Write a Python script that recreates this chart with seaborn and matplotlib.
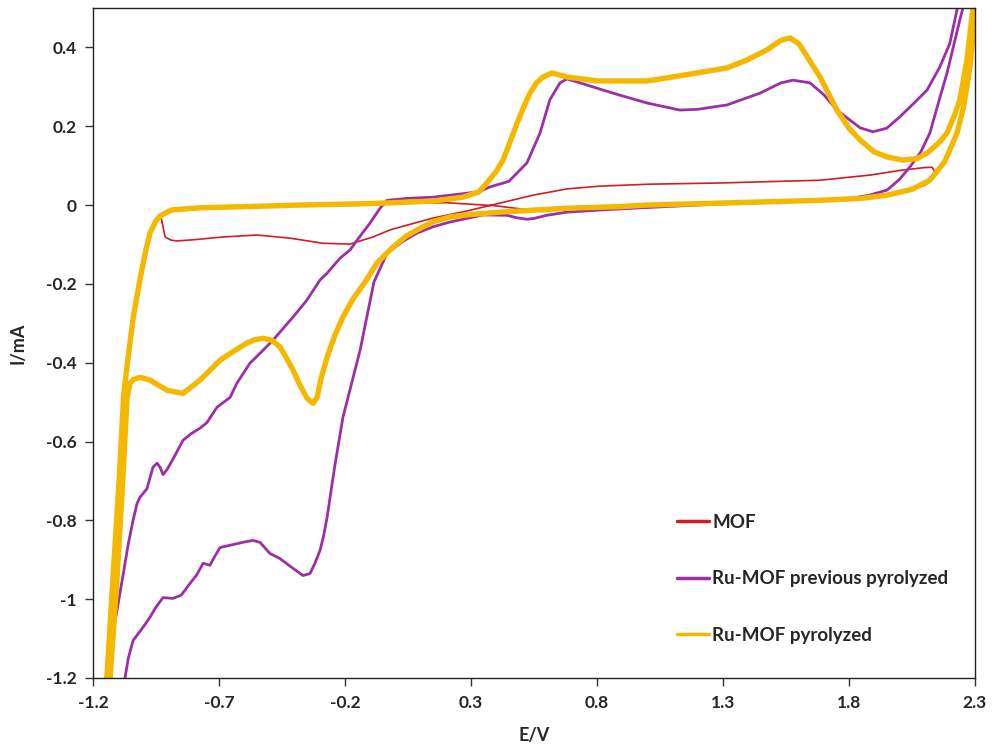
import numpy as np
import pandas as pd
import matplotlib
matplotlib.use('Agg')
import matplotlib.pyplot as plt
import seaborn as sns

# Digitised CV loops (E in V, I in mA)
mof_E = [-0.926, -0.914, -0.890, -0.867, -0.80, -0.684, -0.549, -0.418, -0.287, -0.18,
         -0.089, -0.021, 0.018, 0.149, 0.284, 0.415, 0.546, 0.681, 0.812, 1.01,
         1.288, 1.685, 1.883, 2.014, 2.10, 2.13, 2.14, 2.13, 2.10, 2.05,
         1.95, 1.85, 1.685, 1.288, 1.0, 0.681, 0.50, 0.40, 0.20, 0.0, -0.40, -0.70, -0.85,
         -0.90, -0.93, -0.926]
mof_I = [-0.043, -0.081, -0.089, -0.091, -0.088, -0.081, -0.076, -0.084, -0.097, -0.099,
         -0.081, -0.063, -0.056, -0.033, -0.015, 0.005, 0.025, 0.041, 0.048, 0.053,
         0.056, 0.063, 0.076, 0.089, 0.095, 0.096, 0.085, 0.064, 0.050, 0.040,
         0.025, 0.017, 0.012, 0.005, 0.0, -0.008, -0.01, -0.002, 0.006, 0.004, 0.0, -0.005, -0.010,
         -0.018, -0.030, -0.043]

prev_E = [-1.138, -1.121, -1.105, -1.081, -1.06, -1.041, -1.025, -1.013, -0.986, -0.962,
          -0.946, -0.934, -0.922, -0.905, -0.883, -0.843, -0.81, -0.775, -0.748, -0.708,
          -0.656, -0.629, -0.577, -0.537, -0.486, -0.406, -0.351, -0.299, -0.271, -0.22,
          -0.18, -0.152, -0.1, -0.061, -0.033, 0.05, 0.149, 0.284, 0.336, 0.375,
          0.45, 0.522, 0.574, 0.613, 0.653, 0.681, 0.733, 0.863, 0.998, 1.129,
          1.2, 1.316, 1.447, 1.53, 1.578, 1.645, 1.70, 1.752, 1.844, 1.895,
          1.95, 2.002, 2.06, 2.11, 2.16, 2.2, 2.23, 2.245,
          2.252, 2.24, 2.189, 2.155, 2.121, 2.085, 2.042, 2.0, 1.951, 1.88,
          1.816, 1.713, 1.5, 1.3, 1.1, 0.943, 0.8, 0.681, 0.6, 0.55,
          0.522, 0.48, 0.443, 0.348, 0.217, 0.15, 0.086, 0.03, -0.033, -0.085,
          -0.14, -0.208, -0.24, -0.271, -0.285, -0.299, -0.32, -0.339, -0.367, -0.41,
          -0.458, -0.498, -0.537, -0.565, -0.6, -0.656, -0.696, -0.72, -0.736, -0.763,
          -0.79, -0.815, -0.85, -0.883, -0.922, -0.95, -0.974, -1.0, -1.041, -1.06,
          -1.073, -1.10, -1.138]
prev_I = [-1.20, -1.087, -1.029, -0.94, -0.86, -0.80, -0.757, -0.741, -0.72, -0.665,
          -0.655, -0.665, -0.684, -0.67, -0.645, -0.597, -0.58, -0.566, -0.552, -0.513,
          -0.488, -0.452, -0.401, -0.376, -0.343, -0.284, -0.241, -0.19, -0.173, -0.135,
          -0.114, -0.089, -0.045, -0.008, 0.012, 0.017, 0.02, 0.03, 0.035, 0.046,
          0.06, 0.107, 0.183, 0.267, 0.31, 0.32, 0.31, 0.284, 0.259, 0.241,
          0.243, 0.254, 0.284, 0.31, 0.317, 0.31, 0.28, 0.241, 0.196, 0.186,
          0.195, 0.224, 0.26, 0.292, 0.35, 0.41, 0.50, 0.56,
          0.50, 0.47, 0.335, 0.26, 0.183, 0.135, 0.097, 0.065, 0.038, 0.025,
          0.018, 0.013, 0.007, 0.003, -0.003, -0.008, -0.013, -0.018, -0.026, -0.034,
          -0.036, -0.032, -0.026, -0.025, -0.043, -0.055, -0.071, -0.092, -0.122, -0.195,
          -0.368, -0.538, -0.66, -0.792, -0.84, -0.876, -0.91, -0.935, -0.94, -0.92,
          -0.897, -0.884, -0.856, -0.851, -0.855, -0.863, -0.869, -0.895, -0.914, -0.909,
          -0.94, -0.96, -0.99, -0.998, -0.996, -1.02, -1.046, -1.07, -1.105, -1.15,
          -1.20, -1.30, -1.20]

pyr_E = [-1.145, -1.122, -1.097, -1.078, -1.062, -1.04, -1.012, -0.99, -0.974, -0.95,
         -0.934, -0.9, -0.883, -0.775, -0.537, -0.379, -0.14, -0.049, 0.149, 0.268,
         0.33, 0.363, 0.4, 0.427, 0.455, 0.483, 0.51, 0.534, 0.56, 0.586,
         0.621, 0.681, 0.8, 0.998, 1.05, 1.129, 1.316, 1.395, 1.475, 1.53,
         1.566, 1.6, 1.617, 1.65, 1.685, 1.752, 1.8, 1.844, 1.9, 1.951,
         2.014, 2.07, 2.11, 2.16, 2.189, 2.22, 2.24, 2.268, 2.292, 2.305,
         2.302, 2.28, 2.255, 2.229, 2.18, 2.121, 2.05, 1.95, 1.85, 1.685,
         1.288, 1.0, 0.891, 0.681, 0.415, 0.3, 0.217, 0.15, 0.086, 0.04,
         -0.01, -0.073, -0.12, -0.17, -0.208, -0.24, -0.271, -0.295, -0.311, -0.327,
         -0.351, -0.38, -0.406, -0.435, -0.458, -0.49, -0.525, -0.56, -0.589, -0.64, -0.696, -0.775,
         -0.843, -0.906, -0.974, -1.013, -1.04, -1.053, -1.065, -1.082, -1.105, -1.132,
         -1.14, -1.145]
pyr_I = [-1.20, -0.96, -0.706, -0.48, -0.394, -0.284, -0.183, -0.114, -0.071, -0.04,
         -0.028, -0.016, -0.012, -0.007, -0.003, 0.0, 0.003, 0.005, 0.01, 0.02,
         0.033, 0.056, 0.085, 0.114, 0.16, 0.208, 0.25, 0.284, 0.31, 0.325,
         0.335, 0.325, 0.315, 0.315, 0.32, 0.328, 0.348, 0.368, 0.394, 0.418,
         0.424, 0.41, 0.394, 0.36, 0.325, 0.241, 0.195, 0.165, 0.135, 0.122,
         0.114, 0.118, 0.132, 0.16, 0.183, 0.23, 0.267, 0.368, 0.50, 0.58,
         0.50, 0.35, 0.25, 0.183, 0.11, 0.063, 0.04, 0.025, 0.017, 0.012,
         0.005, 0.0, -0.004, -0.008, -0.018, -0.024, -0.03, -0.042, -0.063, -0.08,
         -0.107, -0.147, -0.195, -0.24, -0.284, -0.33, -0.386, -0.44, -0.488, -0.503,
         -0.49, -0.455, -0.419, -0.385, -0.36, -0.343, -0.338, -0.342, -0.35, -0.37, -0.394, -0.444,
         -0.478, -0.47, -0.444, -0.437, -0.443, -0.452, -0.49, -0.70, -0.95, -1.20,
         -1.30, -1.20]

labels = ['MOF', 'Ru-MOF previous pyrolyzed', 'Ru-MOF pyrolyzed']
colors = ['#D01E26', '#9B2FA6', '#F5B800']
widths = [1.2, 2.0, 3.9]

x_ticks = [-1.2, -0.7, -0.2, 0.3, 0.8, 1.3, 1.8, 2.3]
y_ticks = [-1.2, -1.0, -0.8, -0.6, -0.4, -0.2, 0.0, 0.2, 0.4]

sns.set_theme(style='ticks')
plt.rcParams['font.family'] = ['Lato', 'DejaVu Sans']
plt.rcParams['axes.unicode_minus'] = False

fig = plt.figure(figsize=(9.92, 7.5), dpi=100)
ax = fig.add_axes([93 / 992, 1 - 678 / 750, 882 / 992, 670 / 750])

series = [(mof_E, mof_I), (prev_E, prev_I), (pyr_E, pyr_I)]
for (E, I), lab, c, w in zip(series, labels, colors, widths):
    df = pd.DataFrame({'E': E, 'I': I})
    sns.lineplot(data=df, x='E', y='I', sort=False, estimator=None,
                 color=c, linewidth=w, label=lab, ax=ax)

ax.set_xlim(-1.2, 2.3)
ax.set_ylim(-1.2, 0.5)
ax.set_xticks(x_ticks)
ax.set_yticks(y_ticks)
ax.set_xticklabels([f'{v:g}' for v in x_ticks], fontweight='bold', fontsize=12.5)
ax.set_yticklabels([f'{round(v, 1):g}' for v in y_ticks], fontweight='bold', fontsize=12.5)
ax.tick_params(axis='both', direction='out', length=6, width=1, color='#333333', pad=6)
for s in ax.spines.values():
    s.set_color('#222222')
    s.set_linewidth(1.0)

ax.set_xlabel('E/V', fontweight='bold', fontsize=13, labelpad=12)
ax.set_ylabel('I/mA', fontweight='bold', fontsize=13, labelpad=14)

leg = ax.legend(loc='upper left', bbox_to_anchor=(0.6625, 0.245), frameon=False,
                handlelength=1.7, handletextpad=0.15, labelspacing=2.1,
                borderpad=0, borderaxespad=0,
                prop={'weight': 'bold', 'size': 13.5})
for h in leg.get_lines():
    h.set_linewidth(2.5)

fig.savefig('out.png', dpi=100)
